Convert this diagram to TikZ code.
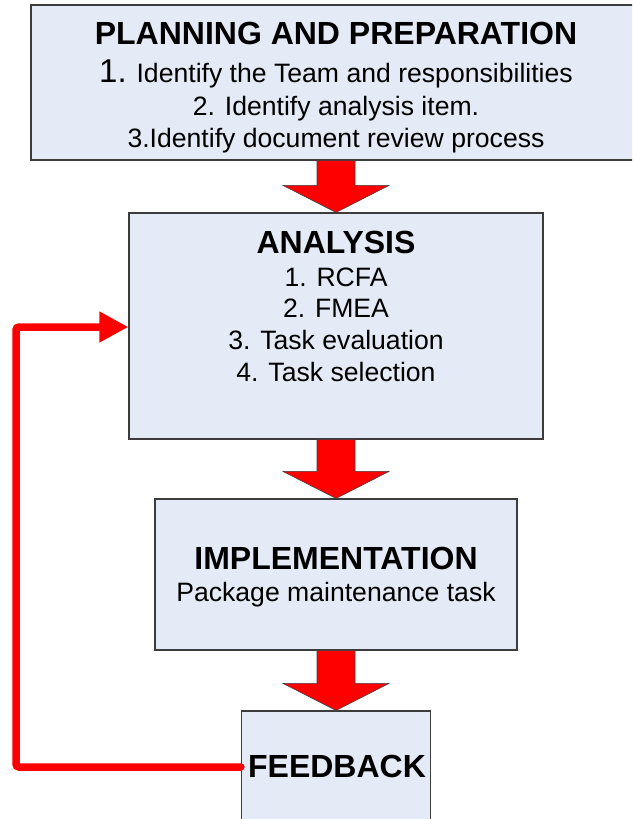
\documentclass[tikz,border=0pt]{standalone}
\usepackage{fontspec}
\setmainfont{Liberation Sans}
\usetikzlibrary{calc,arrows.meta}
\definecolor{boxfill}{RGB}{228,235,246}
\definecolor{boxline}{RGB}{60,60,60}
\newcommand\myblockarrow[2]{%
  \draw[blockarrow] ($(#1.south)+(-19,0)$) -- ($(#2.north)+(-19,-27)$) -- ($(#2.north)+(-53,-27)$) -- (#2.north) -- ($(#2.north)+(53,-27)$) -- ($(#2.north)+(19,-27)$) -- ($(#1.south)+(19,0)$) -- cycle;}
\begin{document}
\begin{tikzpicture}[x=1pt,y=-1pt,
  stage/.style={draw=boxline,fill=boxfill,line width=1.2pt,inner sep=0pt},
  ttl/.style={font=\fontsize{32}{36}\selectfont\bfseries,anchor=base,inner sep=0pt},
  txt/.style={font=\fontsize{26.6}{31}\selectfont,anchor=base,inner sep=0pt},
  blockarrow/.style={fill=red,draw=black!75,line width=0.6pt,line join=miter},
  loopline/.style={draw=red,line width=7.5pt,line cap=round,rounded corners=3pt}
]
\useasboundingbox (0,0) rectangle (632,819);
\clip (0,0) rectangle (632,819);
\fill[white] (0,0) rectangle (632,819);

% boxes
\node[stage,minimum width=610pt,minimum height=155pt] (plan) at (336,82.5) {};
\node[stage,minimum width=414pt,minimum height=226pt] (ana) at (336,326) {};
\node[stage,minimum width=362pt,minimum height=151pt] (impl) at (336,574.5) {};
\node[stage,minimum width=189pt,minimum height=119pt] (fb) at (336,770.5) {};

% texts
\node[ttl] (t1) at (336,44) {PLANNING AND PREPARATION};
\node[txt] (t1a) at (336,82) {{\fontsize{33}{36}\selectfont 1.} Identify the Team and responsibilities};
\node[txt] (t1b) at (336,115) {2. Identify analysis item.};
\node[txt] (t1c) at (336,147) {3.Identify document review process};

\node[ttl] (t2) at (336,253) {ANALYSIS};
\node[txt] (t2a) at (336,286) {1. RCFA};
\node[txt] (t2b) at (336,317) {2. FMEA};
\node[txt] (t2c) at (336,349) {3. Task evaluation};
\node[txt] (t2d) at (336,381) {4. Task selection};

\node[ttl] (t3) at (336,569) {IMPLEMENTATION};
\node[txt] (t3a) at (336,601) {Package maintenance task};

\node[ttl] (t4) at (337,777) {FEEDBACK};

% block arrows
\myblockarrow{plan}{ana}
\myblockarrow{ana}{impl}
\myblockarrow{impl}{fb}

% feedback loop
\coordinate (c1) at (16,767);
\coordinate (c2) at (16,327);
\draw[loopline,-{Triangle[length=29pt,width=29pt]}] (fb.west |- c1) -- (c1) -- (c2) -- (ana.west |- c2);
\end{tikzpicture}
\end{document}
